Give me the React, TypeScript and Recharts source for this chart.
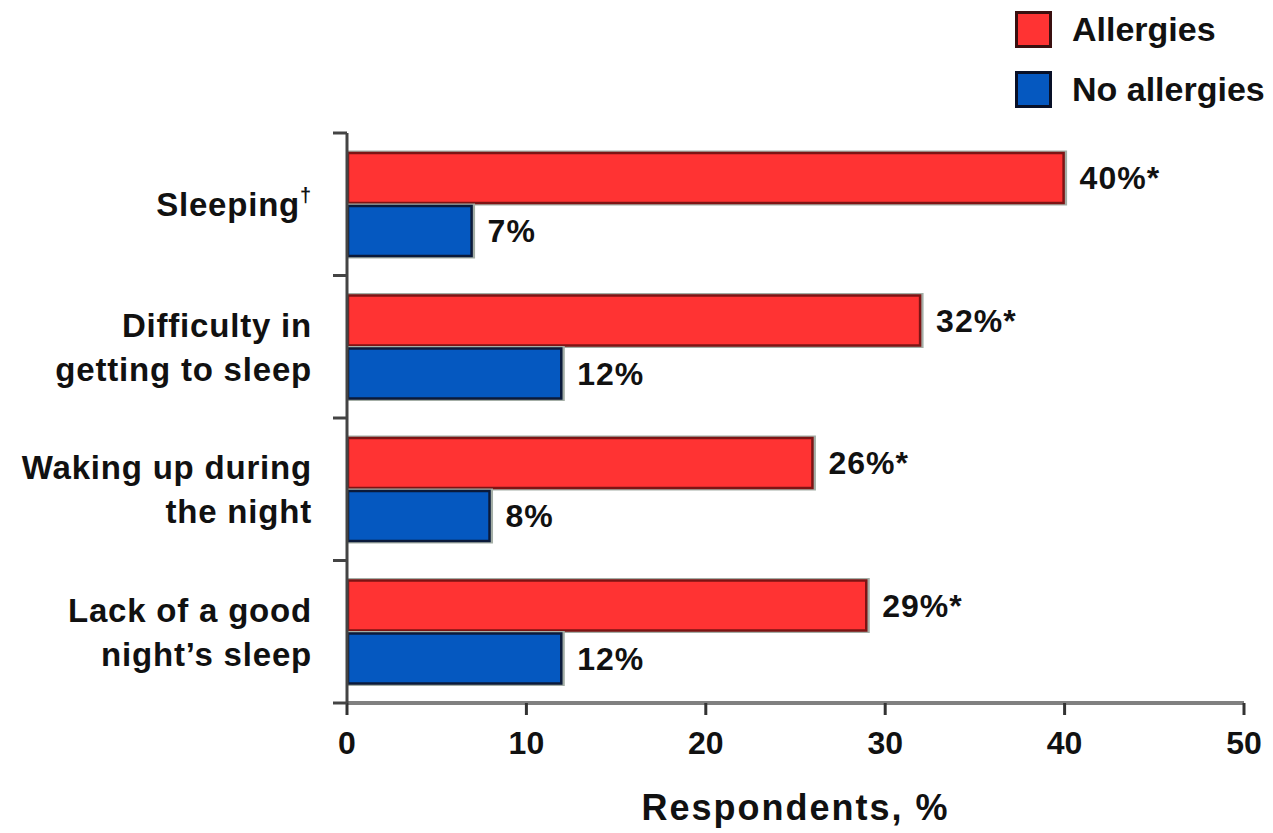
import React from "react";
import {
    BarChart,
    Bar,
    XAxis,
    YAxis,
    Legend,
    LabelList,
} from "recharts";

// categories, one entry per text line of the axis label
const categoryLines = [
    ["Sleeping"],
    ["Difficulty in", "getting to sleep"],
    ["Waking up during", "the night"],
    ["Lack of a good", "night\u2019s sleep"],
];
const categoryMarks = ["\u2020", "", "", ""];

const allergies = [40, 32, 26, 29];
const noAllergies = [7, 12, 8, 12];

const xTicks = [0, 10, 20, 30, 40, 50];

const FONT = '"Liberation Sans", Arial, Helvetica, sans-serif';
const RED = "#ff3333";
const RED_EDGE = "#7d1414";
const BLUE = "#0558c0";
const BLUE_EDGE = "#0b1a3a";

const data = categoryLines.map((lines, i) => ({
    name: lines.join(" "),
    allergies: allergies[i],
    noAllergies: noAllergies[i],
}));

const TICK_SIZE = 14;
const TICK_MARGIN = 21;
const LINE_GAP = 44;

const CategoryTick = (props: any) => {
    const { x, y, payload, index } = props;
    const lines = categoryLines[index] || [];
    const half = payload && payload.offset ? payload.offset : 0;
    const axisX = x + TICK_SIZE + TICK_MARGIN;
    const first = y - ((lines.length - 1) * LINE_GAP) / 2;
    return (
        <g>
            <line x1={axisX - TICK_SIZE} x2={axisX} y1={y - half} y2={y - half} stroke="#444" strokeWidth={3} />
            {index === categoryLines.length - 1 && (
                <line x1={axisX - TICK_SIZE} x2={axisX} y1={y + half} y2={y + half} stroke="#444" strokeWidth={3} />
            )}
            {lines.map((line, i) => (
                <text
                    key={i}
                    x={x}
                    y={first + i * LINE_GAP + 12}
                    textAnchor="end"
                    fontFamily={FONT}
                    fontSize={33}
                    fontWeight={700}
                    letterSpacing={0.8}
                    fill="#111"
                >
                    {line}
                    {i === lines.length - 1 && categoryMarks[index] ? (
                        <tspan fontSize={20} dy={-14}>{categoryMarks[index]}</tspan>
                    ) : null}
                </text>
            ))}
        </g>
    );
};

// bar with a thin grey halo and a dark edge
const HaloBar = (props: any) => {
    const { x, y, width, height, fill, stroke } = props;
    if (!width || width <= 0) return null;
    return (
        <g>
            <rect x={x} y={y - 1.5} width={width + 2.5} height={height + 3} fill="#a4aea6" />
            <rect
                x={x + 1}
                y={y + 1}
                width={Math.max(width - 2, 0)}
                height={Math.max(height - 2, 0)}
                fill={fill}
                stroke={stroke}
                strokeWidth={2.5}
            />
        </g>
    );
};

const renderLegend = (props: any) => {
    const { payload = [] } = props;
    return (
        <div style={{ display: "flex", flexDirection: "column", gap: 23 }}>
            {payload.map((entry: any, i: number) => (
                <div key={i} style={{ display: "flex", alignItems: "center", height: 37 }}>
                    <div
                        style={{
                            width: 37,
                            height: 37,
                            boxSizing: "border-box",
                            border: `3px solid ${i === 0 ? "#3a1010" : "#081028"}`,
                            background: entry.color,
                        }}
                    />
                    <span
                        style={{
                            marginLeft: 20,
                            fontFamily: FONT,
                            fontSize: 34,
                            fontWeight: 700,
                            color: "#111",
                            lineHeight: "37px",
                            whiteSpace: "nowrap",
                        }}
                    >
                        {entry.value}
                    </span>
                </div>
            ))}
        </div>
    );
};

const labelStyle = {
    fontFamily: FONT,
    fontSize: 32,
    fontWeight: 700,
    fill: "#111",
    letterSpacing: 1,
};

export default function App() {
    return (
        <div style={{ position: "absolute", left: 0, top: 0, width: 1273, height: 833, background: "#fff" }}>
            <BarChart
                width={1273}
                height={833}
                data={data}
                layout="vertical"
                margin={{ top: 133, right: 29, left: 0, bottom: 0 }}
                barSize={52}
                barGap={1}
            >
                <Bar
                    dataKey="allergies"
                    name="Allergies"
                    fill={RED}
                    stroke={RED_EDGE}
                    shape={<HaloBar />}
                    isAnimationActive={false}
                >
                    <LabelList
                        dataKey="allergies"
                        position="right"
                        offset={15}
                        formatter={(v: any) => `${v}%*`}
                        {...labelStyle}
                    />
                </Bar>
                <Bar
                    dataKey="noAllergies"
                    name="No allergies"
                    fill={BLUE}
                    stroke={BLUE_EDGE}
                    shape={<HaloBar />}
                    isAnimationActive={false}
                >
                    <LabelList
                        dataKey="noAllergies"
                        position="right"
                        offset={15}
                        formatter={(v: any) => `${v}%`}
                        {...labelStyle}
                    />
                </Bar>
                <XAxis
                    type="number"
                    domain={[0, 50]}
                    ticks={xTicks}
                    height={130}
                    tickSize={12}
                    tickMargin={16}
                    axisLine={{ stroke: "#808080", strokeWidth: 4 }}
                    tickLine={{ stroke: "#333", strokeWidth: 3 }}
                    tick={{ fontFamily: FONT, fontSize: 32, fontWeight: 700, fill: "#111" }}
                    label={{
                        value: "Respondents, %",
                        position: "insideBottom",
                        offset: 13,
                        fontFamily: FONT,
                        fontSize: 36,
                        fontWeight: 700,
                        fill: "#111",
                        letterSpacing: 2,
                    }}
                />
                <YAxis
                    type="category"
                    dataKey="name"
                    width={347}
                    tickSize={TICK_SIZE}
                    tickMargin={TICK_MARGIN}
                    tickLine={false}
                    axisLine={{ stroke: "#444", strokeWidth: 3 }}
                    tick={<CategoryTick />}
                    interval={0}
                />
                <Legend
                    layout="horizontal"
                    align="center"
                    verticalAlign="middle"
                    content={renderLegend}
                    wrapperStyle={{ left: 1015, top: 11, width: 258 }}
                />
            </BarChart>
        </div>
    );
}
